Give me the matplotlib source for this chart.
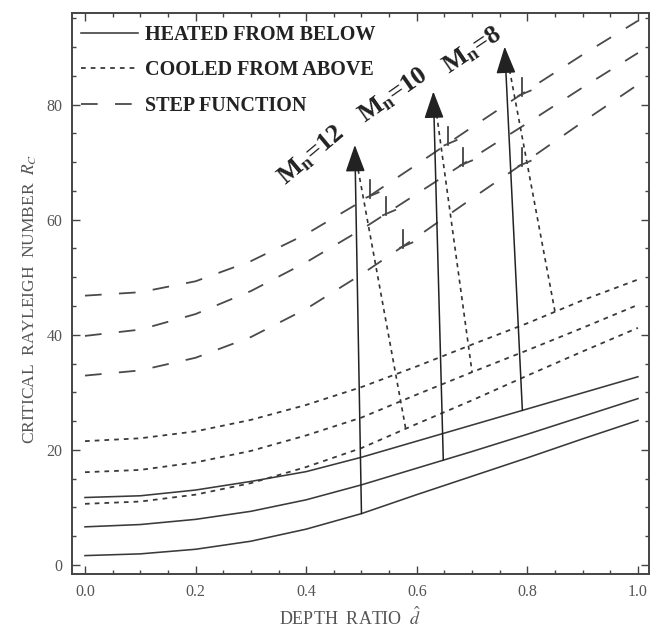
import numpy as np
import matplotlib
matplotlib.use("Agg")
import matplotlib.pyplot as plt
from matplotlib.ticker import MultipleLocator

# ---------------- data ----------------
depth_ratio = [0.0, 0.1, 0.2, 0.3, 0.4, 0.5, 0.6, 0.7, 0.8, 0.9, 1.0]

heated_mn12 = [1.6, 1.9, 2.7, 4.1, 6.2, 8.9, 12.2, 15.4, 18.6, 21.9, 25.1]
heated_mn10 = [6.6, 7.0, 7.9, 9.3, 11.3, 13.9, 16.8, 19.7, 22.7, 25.8, 28.9]
heated_mn8 = [11.7, 12.0, 13.0, 14.5, 16.2, 18.7, 21.5, 24.3, 27.1, 29.9, 32.7]

cooled_mn12 = [10.6, 11.0, 12.2, 14.2, 17.0, 20.3, 24.5, 28.6, 32.9, 37.1, 41.2]
cooled_mn10 = [16.1, 16.5, 17.8, 19.8, 22.5, 25.6, 29.6, 33.5, 37.3, 41.2, 45.2]
cooled_mn8 = [21.5, 22.0, 23.2, 25.2, 27.8, 30.9, 34.5, 38.3, 42.0, 46.0, 49.6]

step_mn12 = [32.9, 33.8, 36.0, 39.6, 44.5, 50.5, 57.0, 63.7, 70.3, 77.0, 83.5]
step_mn10 = [39.8, 40.9, 43.6, 47.6, 52.6, 58.3, 64.5, 70.7, 76.8, 83.0, 89.0]
step_mn8 = [46.8, 47.4, 49.3, 52.8, 57.5, 63.2, 69.6, 76.1, 82.5, 88.7, 94.6]

mn_labels = ["12", "10", "8"]
arrow_base_x = [0.500, 0.648, 0.791]
arrow_tip_x = [0.488, 0.630, 0.759]
arrow_tip_y = [73.0, 82.3, 90.1]
guide_start_x = [0.494, 0.636, 0.765]
guide_start_y = [68.7, 78.3, 87.5]
guide_end_x = [0.580, 0.700, 0.850]
label_x = [0.409, 0.557, 0.700]
label_y = [71.2, 81.6, 89.4]
label_rot = [40, 35, 34]

marks_on_step_mn8 = [0.515, 0.656, 0.790]
marks_on_step_mn10 = [0.545, 0.684]
marks_on_step_mn12 = [0.576, 0.790]

x_ticks = [0.0, 0.2, 0.4, 0.6, 0.8, 1.0]
x_tick_labels = ["0.0", "0.2", "0.4", "0.6", "0.8", "1.0"]
y_ticks = [0, 20, 40, 60, 80]
y_tick_labels = ["0", "20", "40", "60", "80"]

# ---------------- style ----------------
plt.rcParams['lines.scale_dashes'] = False
plt.rcParams['mathtext.fontset'] = 'stix'
SERIF = ['Liberation Serif', 'DejaVu Serif']
CURVE = '#3a3a3a'

W, H = 651, 639
fig = plt.figure(figsize=(W / 100, H / 100), dpi=100)
ax = fig.add_axes([72 / W, 1 - 574 / H, 577 / W, 561.3 / H])

solid = dict(color=CURVE, lw=1.15, ls='-')
dotted = dict(color=CURVE, lw=1.3, ls=(0, (3.4, 3.6)))
dashed = dict(color='#4a4a4a', lw=1.3, ls=(0, (12.0, 12.5)))

x = np.array(depth_ratio)
for ys in (heated_mn12, heated_mn10, heated_mn8):
    ax.plot(x, ys, **solid)
for ys in (cooled_mn12, cooled_mn10, cooled_mn8):
    ax.plot(x, ys, **dotted)
for ys in (step_mn12, step_mn10, step_mn8):
    ax.plot(x, ys, **dashed)

heated = [heated_mn12, heated_mn10, heated_mn8]
cooled = [cooled_mn12, cooled_mn10, cooled_mn8]
for i in range(3):
    by = np.interp(arrow_base_x[i], x, heated[i])
    ax.annotate('', xy=(arrow_tip_x[i], arrow_tip_y[i]), xytext=(arrow_base_x[i], by),
                arrowprops=dict(arrowstyle='-|>,head_length=1.05,head_width=0.38',
                                mutation_scale=16, color='#222222', lw=1.1,
                                shrinkA=0, shrinkB=0))
    ey = np.interp(guide_end_x[i], x, cooled[i])
    ax.plot([guide_start_x[i], guide_end_x[i]], [guide_start_y[i], ey],
            color='#333333', lw=1.2, ls=(0, (3.0, 3.0)))
    ax.text(label_x[i], label_y[i], r'M$_\mathregular{n}$=' + mn_labels[i],
            rotation=label_rot[i], rotation_mode='anchor', ha='center', va='center',
            fontsize=19, fontweight='bold', family=SERIF, color='#222222')

for xs, curve in ((marks_on_step_mn8, step_mn8), (marks_on_step_mn10, step_mn10),
                  (marks_on_step_mn12, step_mn12)):
    for mx in xs:
        my = np.interp(mx, x, curve)
        ax.plot([mx, mx], [my - 0.3, my + 2.8], color='#333333', lw=1.2)
        ax.plot([mx - 0.006, mx + 0.016], [my - 0.3, my + 0.6], color='#4a4a4a', lw=1.3)

# legend
leg_handles = [plt.Line2D([], [], **solid), plt.Line2D([], [], **dotted),
               plt.Line2D([], [], **dashed)]
leg = ax.legend(leg_handles, ['HEATED FROM BELOW', 'COOLED FROM ABOVE', 'STEP FUNCTION'],
                loc='upper left', bbox_to_anchor=(0.016, 0.978), frameon=False,
                handlelength=2.8, handletextpad=0.35, labelspacing=0.76,
                borderpad=0, borderaxespad=0,
                prop=dict(family=SERIF, weight='bold', size=14.5))
for t in leg.get_texts():
    t.set_color('#222222')

# axes
ax.set_xlim(-0.0235, 1.02)
ax.set_ylim(-1.6, 96)
ax.set_xticks(x_ticks)
ax.set_xticklabels(x_tick_labels)
ax.set_yticks(y_ticks)
ax.set_yticklabels(y_tick_labels)
ax.xaxis.set_minor_locator(MultipleLocator(0.05))
ax.yaxis.set_minor_locator(MultipleLocator(5))
ax.tick_params(which='both', direction='in', top=True, right=True, color='#444444')
ax.tick_params(which='major', length=5.5, width=1.0, pad=7)
ax.tick_params(which='minor', length=3.0, width=1.0)
for lab in ax.get_xticklabels() + ax.get_yticklabels():
    lab.set_family(SERIF)
    lab.set_fontsize(11.5)
    lab.set_color('#555555')
for s in ax.spines.values():
    s.set_color('#444444')
    s.set_linewidth(1.4)

ax.set_xlabel(r'DEPTH  RATIO  $\hat{d}$', family=SERIF, fontsize=13, color='#555555')
ax.xaxis.set_label_coords(0.482, -0.058)
ax.set_ylabel(r'CRITICAL  RAYLEIGH  NUMBER  $R_C$', family=SERIF, fontsize=12.5, color='#555555')
ax.yaxis.set_label_coords(-0.058, 0.49)

fig.savefig('out.png', dpi=100)
